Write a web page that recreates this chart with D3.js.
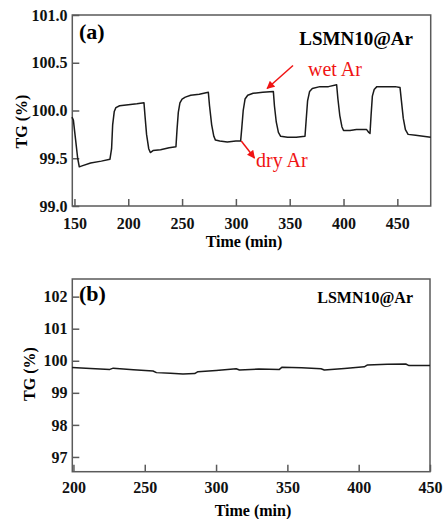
<!DOCTYPE html>
<html>
<head>
<meta charset="utf-8">
<script src="https://cdn.jsdelivr.net/npm/d3@7"></script>
<style>
  body { margin: 0; background: #fff; }
  svg text { font-family: "Liberation Serif", "Times New Roman", serif; }
</style>
</head>
<body>
<div id="chart"></div>
<script>
// panel (a): time (min) and TG (%)
const timeA = [147.7, 149, 151, 153, 154.5, 157, 165, 175, 183, 184.5, 185.5, 187, 188.5, 192, 200, 208, 214.6,
  215.5, 217, 219, 220.5, 223, 230, 238, 244.3, 245.3, 246.5, 248, 250, 253, 258, 266, 274.4,
  275.5, 277.5, 279.5, 281, 285, 292, 300, 304.4, 305.5, 306.8, 308.5, 311, 316, 325, 334.8,
  335.8, 337.5, 339.5, 341.6, 348, 356, 364.2, 365.3, 366.6, 368.5, 371, 378, 386, 393.6,
  394.8, 396.5, 398.5, 400, 406, 412, 418, 421.5, 423.5, 424.6, 425.6, 426.8, 428.5, 431, 440, 448, 452.5,
  453.8, 455.5, 457.5, 460, 467, 474, 481];
const tgA = [99.93, 99.9, 99.7, 99.5, 99.41, 99.42, 99.45, 99.47, 99.49, 99.6, 99.85, 99.99, 100.03, 100.05, 100.06, 100.07, 100.08,
  99.95, 99.75, 99.6, 99.56, 99.58, 99.59, 99.61, 99.62, 99.8, 99.98, 100.08, 100.12, 100.14, 100.16, 100.17, 100.19,
  100.05, 99.85, 99.73, 99.69, 99.68, 99.67, 99.68, 99.68, 99.82, 100.0, 100.12, 100.16, 100.18, 100.19, 100.2,
  100.05, 99.88, 99.77, 99.73, 99.72, 99.72, 99.73, 99.9, 100.1, 100.2, 100.23, 100.25, 100.25, 100.27,
  100.12, 99.95, 99.83, 99.79, 99.79, 99.8, 99.8, 99.8, 99.77, 99.76, 99.95, 100.15, 100.22, 100.25, 100.25, 100.25, 100.24,
  100.1, 99.92, 99.8, 99.75, 99.74, 99.73, 99.72];

// panel (b)
const timeB = [199, 212, 225.5, 227.9, 242, 255.8, 258.2, 268, 276.8, 285, 287.3, 300, 314.1, 316.4, 330, 344.4,
  346.3, 360, 373.6, 375.9, 390, 403.9, 406.2, 420, 433, 435.3, 450];
const tgB = [99.79, 99.76, 99.73, 99.77, 99.72, 99.68, 99.63, 99.61, 99.59, 99.6, 99.66, 99.7, 99.75, 99.71, 99.74, 99.73,
  99.8, 99.78, 99.75, 99.71, 99.76, 99.81, 99.87, 99.89, 99.9, 99.85, 99.85];

const ticksXA = [150, 200, 250, 300, 350, 400, 450];
const ticksYA = [99.0, 99.5, 100.0, 100.5, 101.0];
const ticksXB = [200, 250, 300, 350, 400, 450];
const ticksYB = [97, 98, 99, 100, 101, 102];

const sampleName = "LSMN10@Ar";
const xTitle = "Time (min)";
const yTitle = "TG (%)";

const width = 443;
const height = 519;
const frameColor = "#5a5a5a";

const svg = d3.select("#chart")
  .append("svg")
  .attr("width", width)
  .attr("height", height);

svg.append("defs").append("marker")
  .attr("id", "arrow")
  .attr("viewBox", "0 0 10 10")
  .attr("refX", 9)
  .attr("refY", 5)
  .attr("markerWidth", 10)
  .attr("markerHeight", 8)
  .attr("markerUnits", "userSpaceOnUse")
  .attr("orient", "auto")
  .append("path")
  .attr("d", "M0,0 L10,5 L0,10 z")
  .attr("fill", "#f01414");

function drawPanel(p) {
  const x = d3.scaleLinear().domain(p.xDomain).range([p.left, p.right]);
  const y = d3.scaleLinear().domain(p.yDomain).range([p.bottom, p.top]);
  const g = svg.append("g");

  // x axis, ticks pointing inward
  const xAxis = g.append("g")
    .attr("transform", `translate(0,${p.bottom})`)
    .call(d3.axisBottom(x).tickValues(p.xTicks).tickSize(-7).tickPadding(p.xPad).tickFormat(d3.format("d")));
  // y axis
  const yAxis = g.append("g")
    .attr("transform", `translate(${p.left},0)`)
    .call(d3.axisLeft(y).tickValues(p.yTicks).tickSize(-7).tickPadding(4.7).tickFormat(d3.format(p.yFormat)));

  [xAxis, yAxis].forEach((a) => {
    a.select(".domain").remove();
    a.selectAll("line").attr("stroke", frameColor).attr("stroke-width", 1.5);
    a.selectAll("text")
      .attr("fill", "#111")
      .style("font-size", "16px")
      .style("font-weight", "bold");
  });

  g.append("rect")
    .attr("x", p.left)
    .attr("y", p.top)
    .attr("width", p.right - p.left)
    .attr("height", p.bottom - p.top)
    .attr("fill", "none")
    .attr("stroke", frameColor)
    .attr("stroke-width", 1.5);

  const line = d3.line()
    .x((d) => x(d[0]))
    .y((d) => y(d[1]));

  g.append("path")
    .datum(p.times.map((t, i) => [t, p.values[i]]))
    .attr("d", line)
    .attr("fill", "none")
    .attr("stroke", "#1a1a1a")
    .attr("stroke-width", 1.5)
    .attr("stroke-linejoin", "round");

  g.append("text")
    .attr("x", 79)
    .attr("y", p.labelY)
    .style("font-size", "22px")
    .style("font-weight", "bold")
    .text(p.label);

  g.append("text")
    .attr("x", 413)
    .attr("y", p.nameY)
    .attr("text-anchor", "end")
    .style("font-size", p.nameSize + "px")
    .style("font-weight", "bold")
    .text(sampleName);

  g.append("text")
    .attr("x", p.xTitleX)
    .attr("y", p.xTitleY)
    .attr("text-anchor", "middle")
    .style("font-size", "16px")
    .style("font-weight", "bold")
    .text(xTitle);

  g.append("text")
    .attr("transform", `translate(${p.yTitleX},${p.yTitleY}) rotate(-90)`)
    .attr("text-anchor", "middle")
    .style("font-size", "16px")
    .style("font-weight", "bold")
    .text(yTitle);

  return { x, y, g };
}

const a = drawPanel({
  left: 72.3, right: 430.7, top: 15, bottom: 206,
  xDomain: [148, 481], yDomain: [99, 101],
  xTicks: ticksXA, yTicks: ticksYA, yFormat: ".1f", xPad: 11.5,
  times: timeA, values: tgA,
  label: "(a)", labelY: 39, nameY: 45, nameSize: 19,
  xTitleX: 244, xTitleY: 247, yTitleX: 27, yTitleY: 121.5,
});

drawPanel({
  left: 72.3, right: 430, top: 279, bottom: 471.7,
  xDomain: [199.2, 450], yDomain: [96.54, 102.55],
  xTicks: ticksXB, yTicks: ticksYB, yFormat: "d", xPad: 10,
  times: timeB, values: tgB,
  label: "(b)", labelY: 301, nameY: 303, nameSize: 16,
  xTitleX: 253, xTitleY: 516, yTitleX: 35, yTitleY: 374,
});

// red annotations on panel (a)
const red = "#f01414";
a.g.append("line")
  .attr("x1", 293).attr("y1", 65.5)
  .attr("x2", a.x(329)).attr("y2", a.y(100.21) - 2)
  .attr("stroke", red).attr("stroke-width", 1.5)
  .attr("marker-end", "url(#arrow)");
a.g.append("text")
  .attr("x", 308).attr("y", 76)
  .attr("fill", red)
  .style("font-size", "20px")
  .text("wet Ar");

a.g.append("line")
  .attr("x1", a.x(305)).attr("y1", a.y(99.68))
  .attr("x2", 254.5).attr("y2", 158)
  .attr("stroke", red).attr("stroke-width", 1.5)
  .attr("marker-end", "url(#arrow)");
a.g.append("text")
  .attr("x", 256).attr("y", 167)
  .attr("fill", red)
  .style("font-size", "20px")
  .text("dry Ar");
</script>
</body>
</html>
